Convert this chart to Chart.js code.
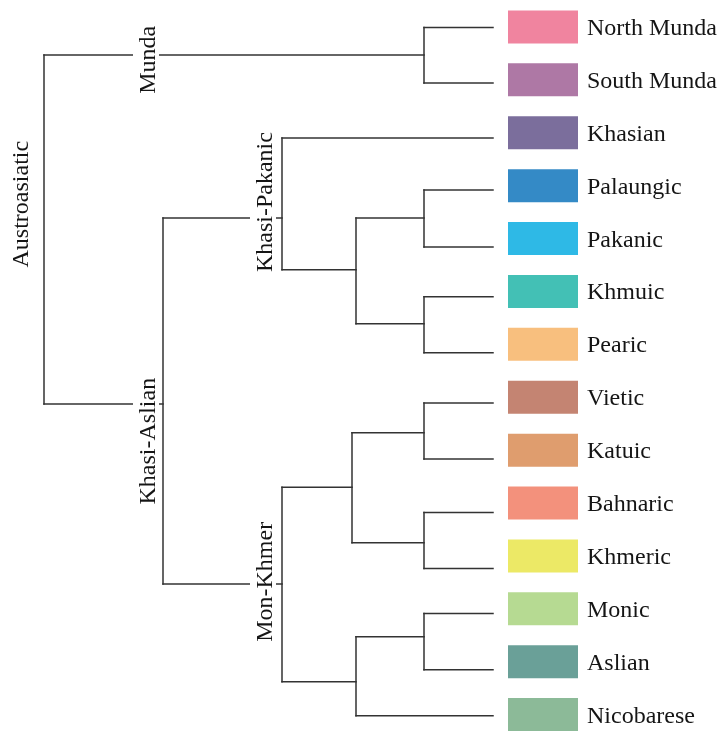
<!DOCTYPE html>
<html>
<head>
<meta charset="utf-8">
<script src="https://cdn.jsdelivr.net/npm/chart.js@4.4.0/dist/chart.umd.min.js"></script>
<style>
body { margin: 0; background: #fff; }
#wrap { width: 722px; height: 731px; position: relative; }
</style>
</head>
<body>
<div id="wrap"><canvas id="tree"></canvas></div>
<script>
// leaves, top to bottom (box row = index)
var leafNames = ['North Munda', 'South Munda', 'Khasian', 'Palaungic', 'Pakanic', 'Khmuic', 'Pearic',
                 'Vietic', 'Katuic', 'Bahnaric', 'Khmeric', 'Monic', 'Aslian', 'Nicobarese'];
var leafColors = ['#F0849F', '#AE78A5', '#7B6E9C', '#348AC6', '#2EB9E6', '#43C0B5', '#F8BF7E',
                  '#C48472', '#DF9D6E', '#F3917C', '#ECE966', '#B6DA92', '#6AA098', '#8CBA98'];
var leafParents = ['Munda', 'Munda', 'Khasi-Pakanic', 'n2', 'n2', 'n3', 'n3',
                   'n5', 'n5', 'n6', 'n6', 'n8', 'n8', 'n7'];
var leafTipY = [0.01, 1.06, 2.10, 3.08, 4.16, 5.10, 6.16, 7.11, 8.17, 9.18, 10.24, 11.09, 12.15, 13.02];
var leafTipX = 4.49;

// internal nodes
var nodeNames   = ['Austroasiatic', 'Munda', 'Khasi-Aslian', 'Khasi-Pakanic', 'Mon-Khmer',
                   'n1', 'n2', 'n3', 'n4', 'n5', 'n6', 'n7', 'n8'];
var nodeParents = [null, 'Austroasiatic', 'Austroasiatic', 'Khasi-Aslian', 'Khasi-Aslian',
                   'Khasi-Pakanic', 'n1', 'n1', 'Mon-Khmer', 'n4', 'n4', 'Mon-Khmer', 'n7'];
var nodeDepth   = [0, 3.80, 1.19, 2.38, 2.38, 3.12, 3.80, 3.80, 3.08, 3.80, 3.80, 3.12, 3.80];
var nodeY       = [null, 0.53, 7.13, 3.61, 10.53, 4.59, 3.61, 5.61, 8.70, 7.67, 9.75, 12.38, 11.53];

// clade names written along the branches
var cladeLabels = ['Austroasiatic', 'Munda', 'Khasi-Aslian', 'Khasi-Pakanic', 'Mon-Khmer'];
var cladeLabelX = [-0.16, 1.11, 1.11, 2.28, 2.28];
var cladeLabelY = [3.35, 0.62, 7.83, 3.31, 10.49];

var lineColor = '#333333';
var textColor = '#151515';

function depthOf(name) {
    return nodeDepth[nodeNames.indexOf(name)];
}

function segment(x1, y1, x2, y2) {
    return {
        data: [{x: x1, y: y1}, {x: x2, y: y2}],
        borderColor: lineColor,
        borderWidth: 1.5,
        borderCapStyle: 'square',
        pointRadius: 0,
        fill: false
    };
}

var datasets = [];

// horizontal branch of every node and leaf, collecting child positions for the verticals
var childYs = {};
nodeNames.forEach(function(n) { childYs[n] = []; });

for (var i = 0; i < nodeNames.length; i++) {
    if (nodeParents[i] == null) continue;
    datasets.push(segment(depthOf(nodeParents[i]), nodeY[i], nodeDepth[i], nodeY[i]));
    childYs[nodeParents[i]].push(nodeY[i]);
}
for (var k = 0; k < leafNames.length; k++) {
    datasets.push(segment(depthOf(leafParents[k]), leafTipY[k], leafTipX, leafTipY[k]));
    childYs[leafParents[k]].push(leafTipY[k]);
}
for (var j = 0; j < nodeNames.length; j++) {
    var ys = childYs[nodeNames[j]];
    datasets.push(segment(nodeDepth[j], Math.min.apply(null, ys), nodeDepth[j], Math.max.apply(null, ys)));
}

// colour boxes
var boxFrom = 4.64, boxTo = 5.34;
for (var b = 0; b < leafNames.length; b++) {
    datasets.push({
        data: [{x: boxFrom, y: b}, {x: boxTo, y: b}],
        borderColor: leafColors[b],
        borderWidth: 33,
        borderCapStyle: 'butt',
        pointRadius: 0,
        fill: false
    });
}

var labelPlugin = {
    id: 'treeLabels',
    afterDatasetsDraw: function(chart) {
        var ctx = chart.ctx;
        var xs = chart.scales.x, ysc = chart.scales.y;
        ctx.save();
        ctx.font = '24px "Liberation Serif", serif';
        ctx.textBaseline = 'alphabetic';

        ctx.fillStyle = textColor;
        ctx.textAlign = 'left';
        for (var i = 0; i < leafNames.length; i++) {
            ctx.fillText(leafNames[i], xs.getPixelForValue(5.43), ysc.getPixelForValue(i) + 8);
        }

        for (var j = 0; j < cladeLabels.length; j++) {
            var px = xs.getPixelForValue(cladeLabelX[j]);
            var py = ysc.getPixelForValue(cladeLabelY[j]);
            var w = ctx.measureText(cladeLabels[j]).width;
            ctx.save();
            ctx.translate(px, py);
            ctx.rotate(-Math.PI / 2);
            ctx.fillStyle = '#ffffff';
            ctx.fillRect(-w / 2 - 3, -22, w + 6, 26);
            ctx.fillStyle = textColor;
            ctx.textAlign = 'center';
            ctx.fillText(cladeLabels[j], 0, 0);
            ctx.restore();
        }
        ctx.restore();
    }
};

new Chart('tree', {
    type: 'line',
    data: { datasets: datasets },
    options: {
        responsive: true,
        maintainAspectRatio: false,
        animation: false,
        layout: { padding: 0 },
        scales: {
            x: { type: 'linear', min: -0.44, max: 6.78, display: false },
            y: { type: 'linear', min: -0.51, max: 13.31, reverse: true, display: false }
        },
        plugins: {
            legend: { display: false },
            tooltip: { enabled: false }
        }
    },
    plugins: [labelPlugin]
});
</script>
</body>
</html>
